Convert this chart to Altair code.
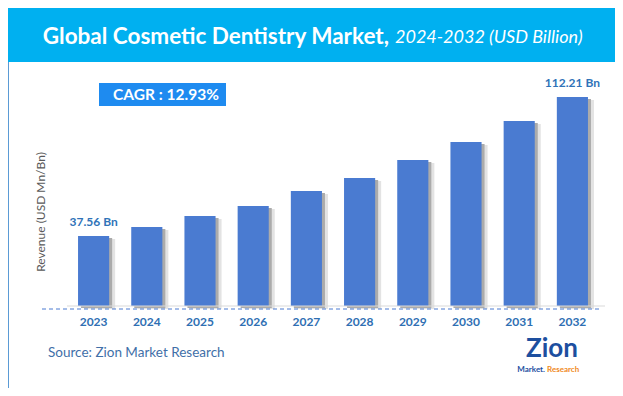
import altair as alt
import pandas as pd

years = ["2023", "2024", "2025", "2026", "2027", "2028", "2029", "2030", "2031", "2032"]
values = [37.56, 42.4, 48.3, 53.7, 61.7, 68.7, 78.4, 88.1, 99.3, 112.21]
value_labels = ["37.56 Bn", "", "", "", "", "", "", "", "", "112.21 Bn"]

title_main = "Global Cosmetic Dentistry Market,"
title_sub = "2024-2032 (USD Billion)"
cagr_text = "CAGR :  12.93%"
y_title = "Revenue (USD Mn/Bn)"
source_text = "Source: Zion Market Research"

df = pd.DataFrame({"year": years, "value": values, "label": value_labels})
one = pd.DataFrame({"a": [0]})

FONT = "Lato"
W, H = 607, 380

xs = alt.X("year:N", axis=None,
           scale=alt.Scale(domain=years, range=[59, 591], paddingInner=0.415, paddingOuter=0.2075))
ys = alt.Y("value:Q", axis=None,
           scale=alt.Scale(domain=[0, 112.21], range=[298, 89], nice=False, zero=True))

base = alt.Chart(df)

shadow2 = base.mark_bar(xOffset=6, yOffset=3, color="#e3e3e3").encode(x=xs, y=ys)
shadow1 = base.mark_bar(xOffset=3, yOffset=2, color="#ababab").encode(x=xs, y=ys)
bars = base.mark_bar(color="#4a7bd1").encode(x=xs, y=ys)
labels = base.mark_text(font=FONT, fontSize=12, fontWeight="bold", color="#2f73b8",
                        baseline="bottom", dy=-7).encode(x=xs, y=ys, text="label:N")
year_text = base.mark_text(font=FONT, fontSize=12, fontWeight="bold", color="#2f6fb3",
                           baseline="middle").encode(x=xs, y=alt.value(314), text="year:N")

deco = alt.Chart(one)
band = deco.mark_rect(color="#00b0f0").encode(
    x=alt.value(0), x2=alt.value(W), y=alt.value(0), y2=alt.value(54))
t1 = deco.mark_text(font=FONT, fontSize=22.5, fontWeight="bold", color="white",
                    align="right", baseline="middle").encode(
    x=alt.value(381), y=alt.value(29), text=alt.value(title_main))
t2 = deco.mark_text(font=FONT, fontSize=18, fontStyle="italic", color="white",
                    align="left", baseline="middle").encode(
    x=alt.value(387), y=alt.value(30), text=alt.value(title_sub))
cbox = deco.mark_rect(color="#1e8bf0").encode(
    x=alt.value(91), x2=alt.value(218), y=alt.value(75), y2=alt.value(98))
ctext = deco.mark_text(font=FONT, fontSize=15.5, fontWeight="bold", color="white",
                       align="center", baseline="middle").encode(
    x=alt.value(158), y=alt.value(87), text=alt.value(cagr_text))
ytit = deco.mark_text(font=FONT, fontSize=12, color="#595959", angle=270,
                      align="center", baseline="middle").encode(
    x=alt.value(33), y=alt.value(204), text=alt.value(y_title))
gline = deco.mark_rule(color="#d9d9d9", strokeWidth=1).encode(
    x=alt.value(59), x2=alt.value(597), y=alt.value(298))
dline = deco.mark_rule(color="#4a7bd1", strokeWidth=1, strokeDash=[4, 3]).encode(
    x=alt.value(34), x2=alt.value(593), y=alt.value(301))
src = deco.mark_text(font=FONT, fontSize=13.5, color="#3f6fa8", align="left",
                     baseline="middle").encode(
    x=alt.value(40), y=alt.value(345), text=alt.value(source_text))
logo1 = deco.mark_text(font=FONT, fontSize=26, fontWeight="bold", color="#1d4f9f",
                       align="center", baseline="middle").encode(
    x=alt.value(544), y=alt.value(341), text=alt.value("Zion"))
logo2 = deco.mark_text(font=FONT, fontSize=8, fontWeight="bold", color="#1d4f9f",
                       align="right", baseline="middle").encode(
    x=alt.value(537), y=alt.value(362), text=alt.value("Market."))
logo3 = deco.mark_text(font=FONT, fontSize=8, fontWeight="bold", color="#f08a1c",
                       align="left", baseline="middle").encode(
    x=alt.value(539), y=alt.value(362), text=alt.value("Research"))

chart = alt.layer(
    band, t1, t2, cbox, ctext, ytit,
    shadow2, shadow1, bars, labels,
    gline, dline, year_text, src, logo1, logo2, logo3
).properties(
    width=W, height=H, padding=0,
    autosize=alt.AutoSizeParams(type="none"),
    background="white",
).configure_view(stroke="#5b9bd5", strokeWidth=1)

chart.save("out.html", embed_options={"renderer": "svg", "actions": False})
